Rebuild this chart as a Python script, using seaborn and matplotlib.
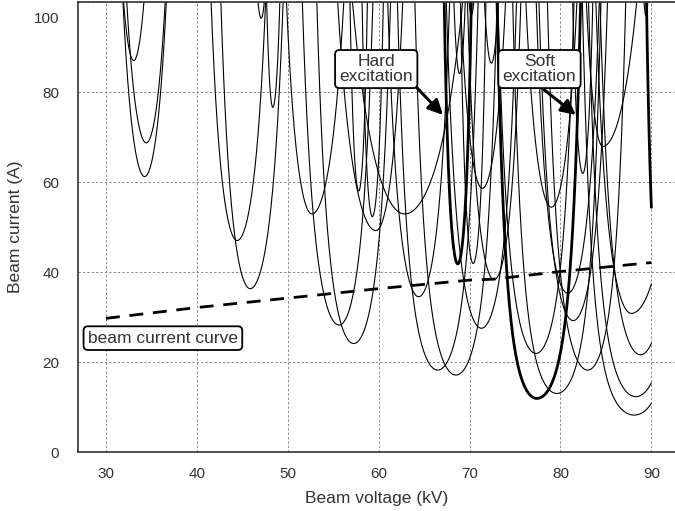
import numpy as np
import pandas as pd
import matplotlib
matplotlib.use("Agg")
import matplotlib.pyplot as plt
import seaborn as sns

# start-current curves:
# voltage of the minimum (kV), minimum current (A), left / right width (kV)
mode_vmin = [33.05, 34.43, 34.25, 44.43, 45.86, 47.07, 48.35, 52.65, 55.65, 57.25,
             57.8, 59.3, 59.7, 62.86, 64.4, 66.5, 68.5, 68.9, 70.2, 70.4,
             71.3, 71.4, 72.4, 72.7, 77.3, 79.0, 79.6, 80.8, 81.4, 82.45,
             83.0, 84.65, 87.8, 88.3, 88.1, 88.8, 89.4]
mode_imin = [87.0, 68.7, 61.2, 47.0, 36.3, 96.4, 76.6, 52.9, 28.2, 24.1,
             58.0, 52.3, 49.2, 52.9, 34.5, 18.2, 17.1, 84.1, 97.1, 41.9,
             27.5, 58.6, 86.4, 38.3, 21.9, 54.4, 13.0, 35.3, 29.2, 61.9,
             18.2, 67.9, 30.8, 12.3, 8.2, 21.6, 97.0]
mode_wl = [3.0, 3.5, 3.4, 3.3, 3.2, 1.8, 1.3, 3.5, 3.6, 3.4,
           1.3, 1.4, 5.0, 7.2, 3.3, 3.4, 3.4, 1.5, 1.5, 1.5,
           3.4, 3.3, 2.0, 3.0, 3.4, 3.6, 3.4, 3.4, 3.4, 1.6,
           3.4, 2.9, 3.6, 3.6, 3.6, 3.6, 1.2]
mode_wr = [3.0, 3.4, 3.4, 3.6, 3.6, 1.8, 1.5, 4.4, 3.3, 3.4,
           1.3, 1.5, 3.5, 8.0, 3.3, 3.4, 3.4, 1.5, 1.5, 1.5,
           3.4, 3.5, 2.0, 3.0, 3.4, 3.6, 3.4, 3.4, 3.4, 1.6,
           3.2, 6.0, 5.0, 3.6, 3.6, 3.6, 1.2]

# the three highlighted modes (thick lines)
thick_vmin = [68.7, 77.4, 92.0]
thick_imin = [41.8, 11.9, 20.0]
thick_wl = [1.6, 3.0, 2.0]
thick_wr = [1.6, 3.3, 2.0]

# beam current curve (dashed)
beam_v = [30, 40, 50, 60, 70, 72.6, 80, 90]
beam_i = [29.7, 32.1, 34.2, 36.3, 38.2, 38.4, 40.1, 42.1]

v_grid = np.linspace(30, 90, 3001)


def mode_table(vmins, imins, wls, wrs):
    rows = []
    for k, (v0, i0, wl, wr) in enumerate(zip(vmins, imins, wls, wrs)):
        w = np.where(v_grid < v0, wl, wr)
        cur = i0 * np.exp(((v_grid - v0) / w) ** 2)
        keep = cur < 160
        rows.append(pd.DataFrame({"V": v_grid[keep], "I": cur[keep], "mode": k}))
    return pd.concat(rows, ignore_index=True)


thin_df = mode_table(mode_vmin, mode_imin, mode_wl, mode_wr)
thick_df = mode_table(thick_vmin, thick_imin, thick_wl, thick_wr)
beam_df = pd.DataFrame({"V": beam_v, "I": beam_i})

sns.set_theme(style="white")
plt.rcParams['font.family'] = ['Liberation Sans', 'DejaVu Sans']
txt_color = "#333333"

fig = plt.figure(figsize=(6.75, 5.11), dpi=100)
ax = fig.add_axes([78 / 675, 59 / 511, 1 - 78 / 675, 450 / 511])

sns.lineplot(data=thin_df, x="V", y="I", units="mode", estimator=None, sort=False,
             color="black", lw=0.8, ax=ax)
sns.lineplot(data=thick_df, x="V", y="I", units="mode", estimator=None, sort=False,
             color="black", lw=2.0, ax=ax)
sns.lineplot(data=beam_df, x="V", y="I", color="black", lw=2.0, ax=ax,
             linestyle=(0, (5, 3.5)))

ax.set_xlim(26.92, 92.6)
ax.set_ylim(0, 100)
ax.set_xticks([30, 40, 50, 60, 70, 80, 90])
ax.set_yticks([0, 20, 40, 60, 80, 100])
ax.set_yticklabels(["0", "20", "40", "60", "80", ""])
# the top label sits a little below its grid line
ax.annotate("100", xy=(0, 100), xycoords=("axes fraction", "data"), xytext=(-13.5, -11.3),
            textcoords="offset points", ha="right", va="center_baseline",
            fontsize=11, color=txt_color)
ax.grid(True, color="#8c8c8c", lw=0.7, linestyle=(0, (2.5, 2)))
ax.tick_params(length=0, labelsize=11, labelcolor=txt_color)
ax.tick_params(axis="x", pad=11)
ax.tick_params(axis="y", pad=13.5)
ax.set_xlabel("Beam voltage (kV)", fontsize=12.5, color=txt_color, labelpad=7)
ax.set_ylabel("Beam current (A)", fontsize=12.5, color=txt_color)
ax.yaxis.set_label_coords(-55 / 597, 0.5)
for side in ["left", "bottom", "top"]:
    ax.spines[side].set_color("#333333")
    ax.spines[side].set_linewidth(1.2)
ax.spines["right"].set_visible(False)

box = dict(boxstyle="round,pad=0.25,rounding_size=0.25", fc="white", ec="black", lw=1.3)
arrow = dict(arrowstyle="-|>", color="black", lw=2.2, mutation_scale=22, shrinkA=0, shrinkB=0)

ax.annotate("Hard\nexcitation", xy=(67.07, 74.9), xytext=(59.73, 85.1),
            ha="center", va="center", fontsize=12.5, color=txt_color, linespacing=0.95,
            bbox=box, arrowprops=dict(arrow, relpos=(1.0, 0.0)), zorder=5)
ax.annotate("Soft\nexcitation", xy=(81.7, 74.9), xytext=(77.69, 85.1),
            ha="center", va="center", fontsize=12.5, color=txt_color, linespacing=0.95,
            bbox=box, arrowprops=dict(arrow, relpos=(0.46, 0.0)), zorder=5)
ax.text(36.26, 25.3, "beam current curve", ha="center", va="center", fontsize=12.5,
        color=txt_color, bbox=box, zorder=5)

fig.savefig("out.png", dpi=100)
